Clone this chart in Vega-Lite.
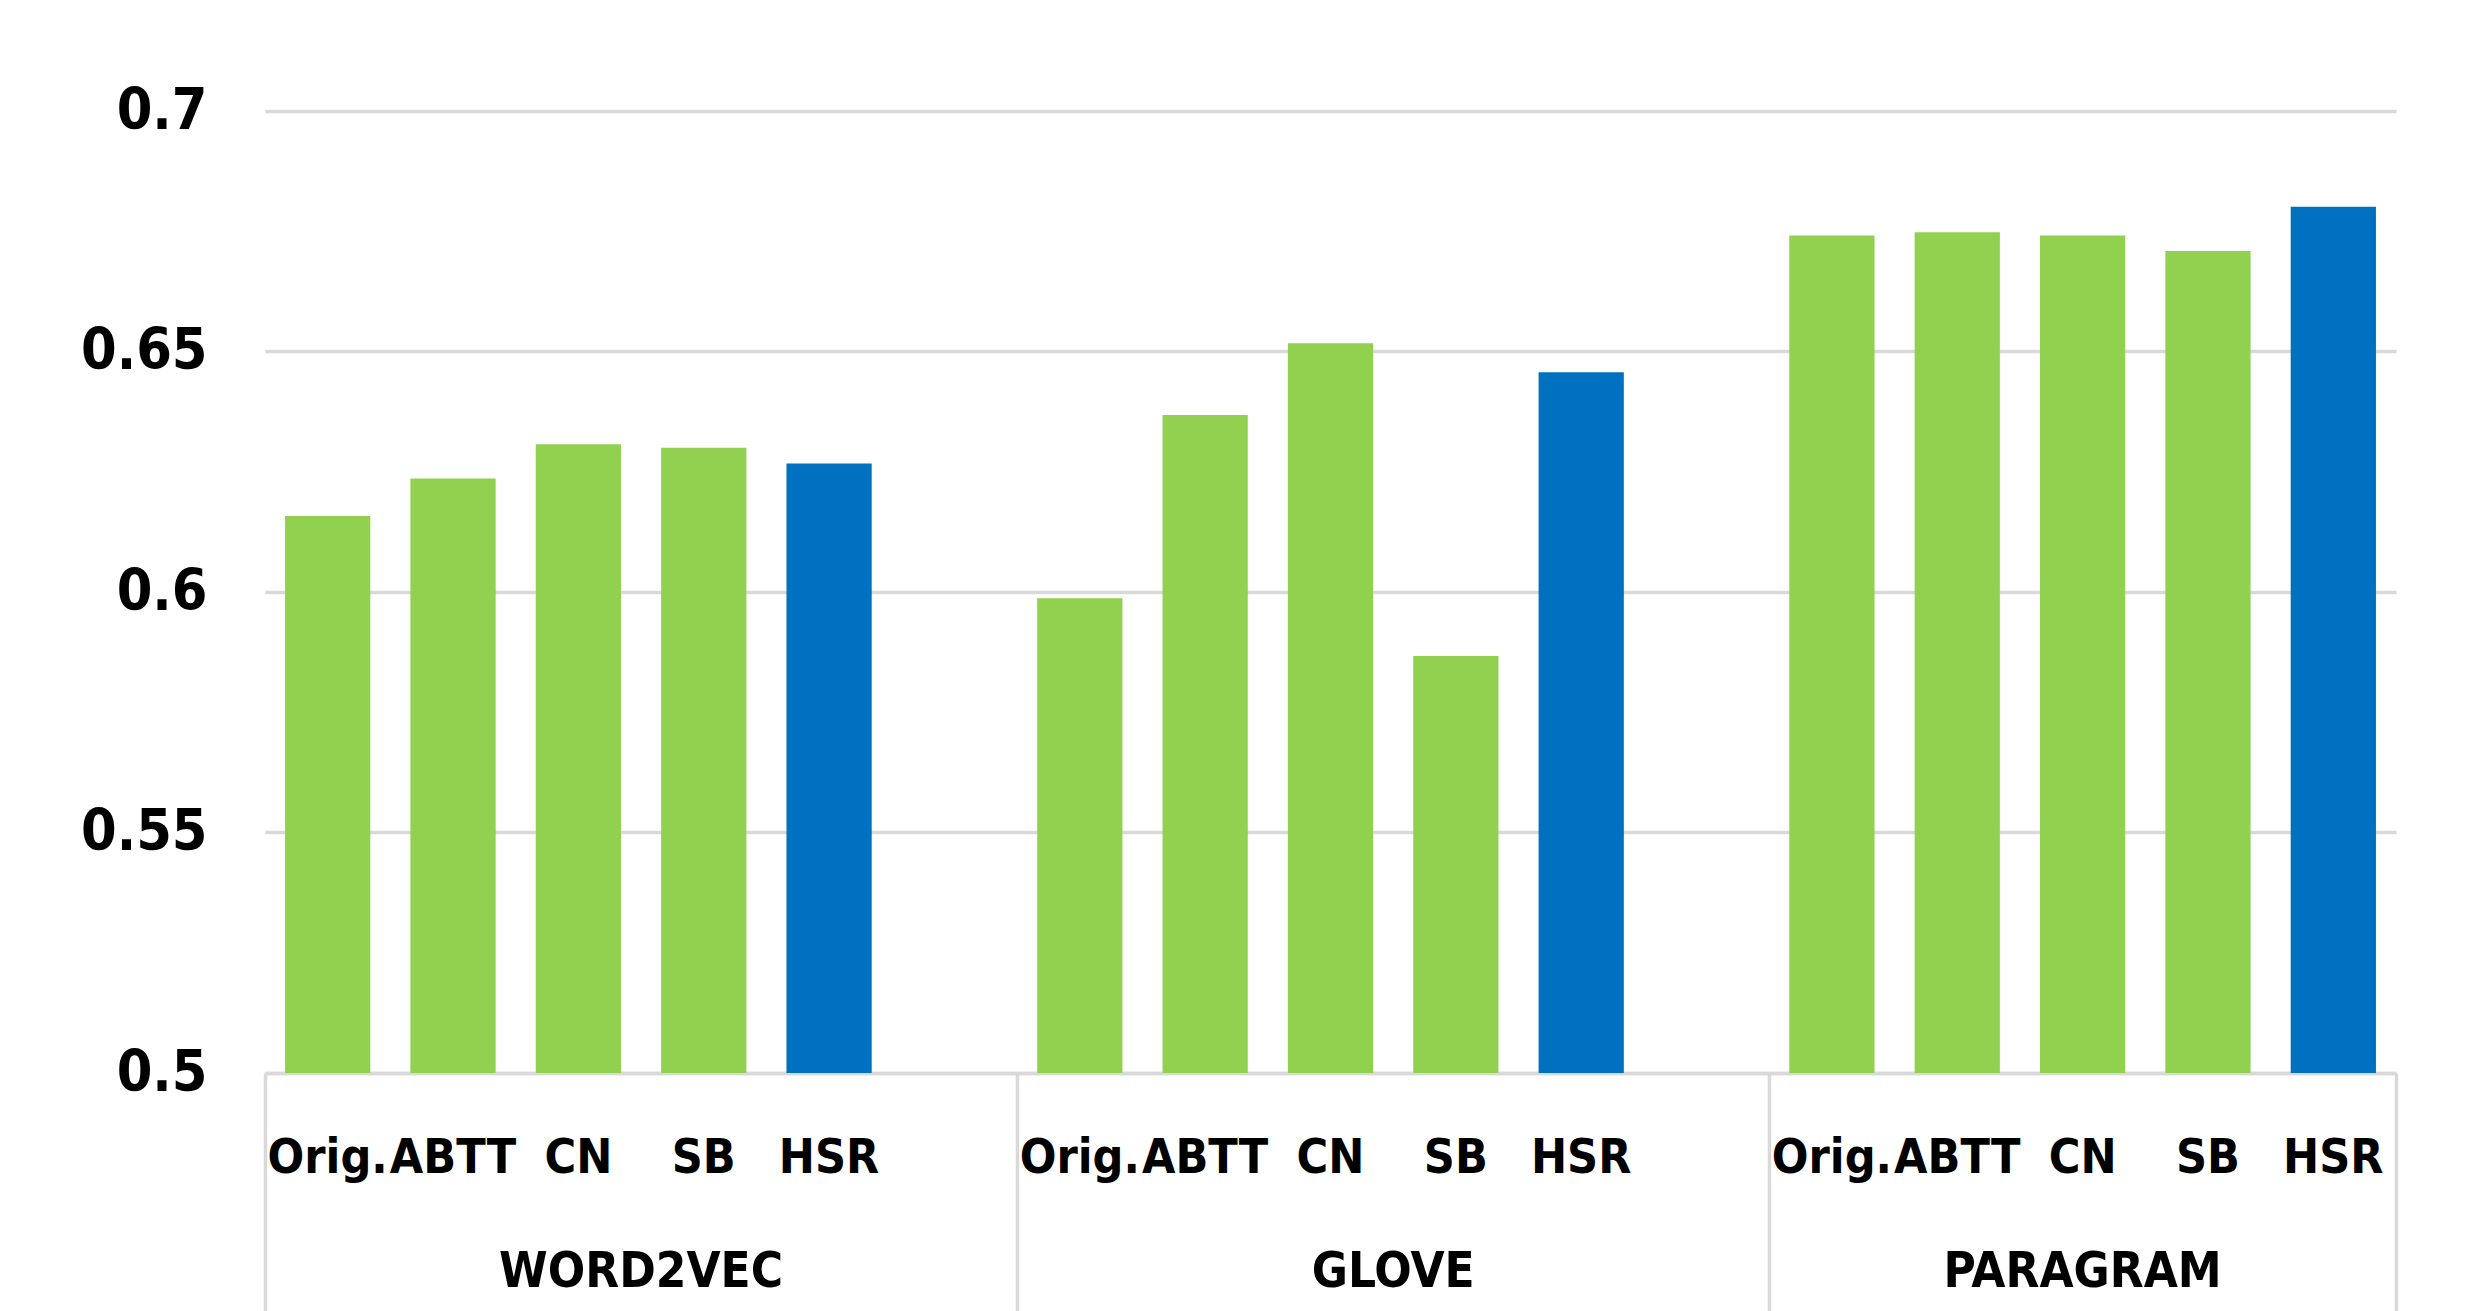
{
  "$schema": "https://vega.github.io/schema/vega-lite/v6.json",
  "autosize": {"type": "none"},
  "padding": {"left": 265, "top": 111, "right": 81, "bottom": 238},
  "width": 2131,
  "height": 962,
  "background": "white",
  "config": {
    "view": {"stroke": null},
    "axis": {"labelFont": "DejaVu Sans Condensed", "labelFontWeight": "bold", "labelColor": "#000000"}
  },
  "data": {
    "values": [
      {"group": "WORD2VEC", "method": "Orig.", "slot": "WORD2VEC|Orig.", "value": 0.6158},
      {"group": "WORD2VEC", "method": "ABTT", "slot": "WORD2VEC|ABTT", "value": 0.6236},
      {"group": "WORD2VEC", "method": "CN", "slot": "WORD2VEC|CN", "value": 0.6307},
      {"group": "WORD2VEC", "method": "SB", "slot": "WORD2VEC|SB", "value": 0.6300},
      {"group": "WORD2VEC", "method": "HSR", "slot": "WORD2VEC|HSR", "value": 0.6267},
      {"group": "GLOVE", "method": "Orig.", "slot": "GLOVE|Orig.", "value": 0.5987},
      {"group": "GLOVE", "method": "ABTT", "slot": "GLOVE|ABTT", "value": 0.6368},
      {"group": "GLOVE", "method": "CN", "slot": "GLOVE|CN", "value": 0.6517},
      {"group": "GLOVE", "method": "SB", "slot": "GLOVE|SB", "value": 0.5867},
      {"group": "GLOVE", "method": "HSR", "slot": "GLOVE|HSR", "value": 0.6457},
      {"group": "PARAGRAM", "method": "Orig.", "slot": "PARAGRAM|Orig.", "value": 0.6741},
      {"group": "PARAGRAM", "method": "ABTT", "slot": "PARAGRAM|ABTT", "value": 0.6748},
      {"group": "PARAGRAM", "method": "CN", "slot": "PARAGRAM|CN", "value": 0.6741},
      {"group": "PARAGRAM", "method": "SB", "slot": "PARAGRAM|SB", "value": 0.6709},
      {"group": "PARAGRAM", "method": "HSR", "slot": "PARAGRAM|HSR", "value": 0.6801}
    ]
  },
  "layer": [
    {
      "mark": {"type": "bar"},
      "encoding": {
        "x": {
          "field": "slot", "type": "nominal", "sort": null,
          "scale": {"domain": ["WORD2VEC|Orig.", "WORD2VEC|ABTT", "WORD2VEC|CN", "WORD2VEC|SB", "WORD2VEC|HSR", "WORD2VEC|gap", "GLOVE|Orig.", "GLOVE|ABTT", "GLOVE|CN", "GLOVE|SB", "GLOVE|HSR", "GLOVE|gap", "PARAGRAM|Orig.", "PARAGRAM|ABTT", "PARAGRAM|CN", "PARAGRAM|SB", "PARAGRAM|HSR"], "paddingInner": 0.32, "paddingOuter": 0.16},
          "axis": {
            "orient": "bottom", "title": null, "ticks": false, "grid": false,
            "domain": true, "domainColor": "#D9D9D9", "domainWidth": 3.5,
            "labelExpr": "split(datum.value, '|')[1] == 'gap' ? '' : split(datum.value, '|')[1]",
            "labelAngle": 0, "labelFontSize": 48, "labelBaseline": "alphabetic", "labelPadding": 99,
            "labelOverlap": false, "labelBound": false, "labelFlush": false, "labelLimit": 0
          }
        },
        "y": {
          "field": "value", "type": "quantitative",
          "scale": {"domain": [0.5, 0.7], "zero": false, "nice": false},
          "axis": {
            "title": null, "values": [0.5, 0.55, 0.6, 0.65, 0.7], "format": "~g",
            "ticks": false, "domain": false, "grid": true, "gridColor": "#D9D9D9", "gridWidth": 3.5,
            "labelFontSize": 57, "labelPadding": 58
          }
        },
        "y2": {"datum": 0.5},
        "color": {
          "field": "method", "type": "nominal",
          "scale": {"domain": ["Orig.", "ABTT", "CN", "SB", "HSR"], "range": ["#92D050", "#92D050", "#92D050", "#92D050", "#0070C0"]},
          "legend": null
        }
      }
    },
    {
      "mark": {"type": "bar", "opacity": 0},
      "encoding": {
        "x": {
          "field": "slot", "type": "nominal", "sort": null,
          "axis": {
            "orient": "bottom", "title": null, "ticks": false, "grid": false, "domain": false,
            "values": ["WORD2VEC|CN", "GLOVE|CN", "PARAGRAM|CN"],
            "labelExpr": "split(datum.value, '|')[0]",
            "labelOffset": {"condition": {"test": "datum.value != 'PARAGRAM|CN'", "value": 62.7}, "value": 0},
            "labelAngle": 0, "labelFontSize": 49, "labelBaseline": "alphabetic", "labelPadding": 213,
            "labelOverlap": false, "labelBound": false, "labelFlush": false, "labelLimit": 0
          }
        }
      }
    },
    {
      "mark": {"type": "bar", "opacity": 0},
      "encoding": {
        "x": {
          "field": "slot", "type": "nominal", "sort": null,
          "axis": {
            "orient": "bottom", "title": null, "labels": false, "grid": false, "domain": false,
            "values": ["WORD2VEC|Orig.", "GLOVE|Orig.", "PARAGRAM|Orig."],
            "ticks": true, "bandPosition": 0, "tickOffset": -20, "tickSize": 245,
            "tickColor": "#D9D9D9", "tickWidth": 3.5
          }
        }
      }
    },
    {
      "mark": {"type": "bar", "opacity": 0},
      "encoding": {
        "x": {
          "field": "slot", "type": "nominal", "sort": null,
          "axis": {
            "orient": "bottom", "title": null, "labels": false, "grid": false, "domain": false,
            "values": ["PARAGRAM|HSR"],
            "ticks": true, "bandPosition": 1, "tickOffset": 20, "tickSize": 245,
            "tickColor": "#D9D9D9", "tickWidth": 3.5
          }
        }
      }
    }
  ],
  "resolve": {"axis": {"x": "independent"}}
}
